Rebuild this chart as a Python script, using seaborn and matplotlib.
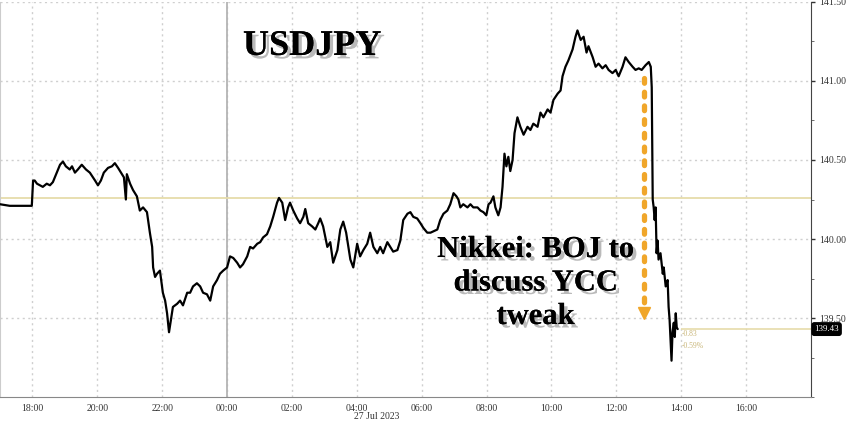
import matplotlib
matplotlib.use('Agg')
import matplotlib.pyplot as plt
import matplotlib.patheffects as pe
import matplotlib.transforms as mtransforms
from matplotlib.ticker import MultipleLocator, FixedLocator, FuncFormatter
import pandas as pd
import seaborn as sns

sns.set_style('white')
plt.rcParams['font.family'] = ['Liberation Serif', 'DejaVu Serif']

# horas respecto a la medianoche del 27 Jul 2023 (negativas = 26 Jul)
hours = [-7.0, -6.7, -6.4, -6.02, -5.98, -5.93, -5.86, -5.77, -5.68, -5.56, -5.46, -5.37,
         -5.25, -5.15, -5.06, -4.97, -4.85, -4.78, -4.69, -4.60, -4.48, -4.35, -4.23, -4.07,
         -3.98, -3.89, -3.80, -3.67, -3.55, -3.46, -3.36, -3.27, -3.18, -3.12, -3.09, -2.99,
         -2.90, -2.78, -2.69, -2.59, -2.47, -2.38, -2.31, -2.28, -2.22, -2.16, -2.07, -1.98,
         -1.91, -1.85, -1.79, -1.73, -1.67, -1.54, -1.45, -1.36, -1.23, -1.14, -1.05, -0.93,
         -0.83, -0.74, -0.62, -0.52, -0.43, -0.31, -0.22, -0.12, 0.00, 0.09, 0.19, 0.31,
         0.40, 0.49, 0.62, 0.71, 0.80, 0.93, 1.02, 1.11, 1.23, 1.33, 1.42, 1.54,
         1.60, 1.70, 1.79, 1.88, 1.94, 2.04, 2.16, 2.25, 2.35, 2.41, 2.50, 2.62,
         2.72, 2.81, 2.87, 2.96, 3.09, 3.18, 3.27, 3.40, 3.49, 3.58, 3.67, 3.80,
         3.89, 4.01, 4.10, 4.20, 4.32, 4.41, 4.51, 4.63, 4.72, 4.81, 4.94, 5.03,
         5.12, 5.25, 5.34, 5.43, 5.56, 5.65, 5.74, 5.86, 5.96, 6.05, 6.17, 6.27,
         6.48, 6.57, 6.67, 6.79, 6.88, 6.98, 7.07, 7.13, 7.19, 7.28, 7.41, 7.50,
         7.59, 7.72, 7.81, 7.90, 7.99, 8.06, 8.12, 8.21, 8.27, 8.36, 8.43, 8.49,
         8.55, 8.61, 8.67, 8.73, 8.80, 8.86, 8.95, 9.04, 9.14, 9.26, 9.35, 9.44,
         9.57, 9.66, 9.75, 9.88, 9.97, 10.06, 10.19, 10.28, 10.34, 10.43, 10.52, 10.65,
         10.74, 10.80, 10.90, 10.99, 11.08, 11.14, 11.27, 11.36, 11.45, 11.57, 11.67, 11.76,
         11.88, 11.98, 12.07, 12.19, 12.28, 12.38, 12.50, 12.59, 12.69, 12.78, 12.90, 13.00,
         13.06, 13.09, 13.12, 13.15, 13.18, 13.21, 13.24, 13.27, 13.30, 13.36, 13.43, 13.46,
         13.52, 13.58, 13.61, 13.64, 13.67, 13.70, 13.73, 13.77, 13.80, 13.83, 13.86, 13.89]

price = [140.22, 140.21, 140.21, 140.21, 140.37, 140.37, 140.35, 140.34, 140.33, 140.35, 140.34, 140.36,
         140.42, 140.47, 140.49, 140.46, 140.44, 140.46, 140.42, 140.44, 140.47, 140.44, 140.42, 140.37,
         140.34, 140.37, 140.42, 140.45, 140.46, 140.48, 140.45, 140.42, 140.39, 140.25, 140.41, 140.35,
         140.31, 140.27, 140.18, 140.20, 140.17, 140.04, 139.95, 139.82, 139.76, 139.78, 139.80, 139.66,
         139.61, 139.53, 139.41, 139.49, 139.57, 139.59, 139.61, 139.58, 139.66, 139.66, 139.70, 139.72,
         139.70, 139.66, 139.65, 139.61, 139.70, 139.74, 139.78, 139.80, 139.82, 139.89, 139.88, 139.85,
         139.82, 139.84, 139.89, 139.95, 139.94, 139.97, 139.98, 140.01, 140.03, 140.08, 140.14, 140.23,
         140.26, 140.23, 140.12, 140.20, 140.23, 140.18, 140.13, 140.10, 140.14, 140.19, 140.10, 140.08,
         140.06, 140.10, 140.13, 140.08, 139.95, 139.98, 139.85, 139.93, 140.06, 140.11, 140.04, 139.87,
         139.82, 139.97, 139.89, 139.93, 139.97, 140.04, 139.95, 139.91, 139.95, 139.91, 139.98, 139.95,
         139.92, 139.93, 139.99, 140.12, 140.16, 140.17, 140.14, 140.13, 140.10, 140.07, 140.04, 140.04,
         140.06, 140.12, 140.16, 140.18, 140.22, 140.29, 140.27, 140.25, 140.20, 140.22, 140.20, 140.22,
         140.20, 140.20, 140.18, 140.17, 140.15, 140.22, 140.23, 140.27, 140.20, 140.15, 140.20, 140.33,
         140.54, 140.46, 140.52, 140.43, 140.50, 140.67, 140.77, 140.71, 140.66, 140.71, 140.69, 140.73,
         140.71, 140.80, 140.77, 140.82, 140.80, 140.88, 140.92, 140.94, 141.03, 141.09, 141.13, 141.20,
         141.28, 141.32, 141.26, 141.28, 141.18, 141.22, 141.15, 141.09, 141.11, 141.08, 141.10, 141.07,
         141.05, 141.07, 141.03, 141.09, 141.15, 141.12, 141.09, 141.07, 141.08, 141.07, 141.10, 141.12,
         141.09, 140.96, 140.25, 140.20, 140.12, 140.20, 139.91, 139.99, 139.87, 139.91, 139.78, 139.82,
         139.70, 139.74, 139.57, 139.49, 139.36, 139.23, 139.41, 139.47, 139.38, 139.53, 139.44, 139.43]

df = pd.DataFrame({'hour': hours, 'price': price})

hour_ticks = [-6, -4, -2, 0, 2, 4, 6, 8, 10, 12, 14, 16]
price_ticks = [139.5, 140.0, 140.5, 141.0, 141.5]

ref_level = 140.26
last_price = 139.43
last_label = '139.43'
chg_abs = '-0.83'
chg_pct = '-0.59%'

title = 'USDJPY'
note_lines = ['Nikkei: BOJ to', 'discuss YCC', 'tweak']
date_label = '27 Jul 2023'

# flecha naranja (hora, desde, hasta)
arrow_hour = 12.86
arrow_from = 141.02
arrow_to = 139.50

line_col = '#e6dcaa'
orange = '#f0a62a'

fig = plt.figure(figsize=(8.48, 4.22), dpi=100)
ax = fig.add_axes([0.0, 0.0592, 0.9564, 0.9361])

# lineas de fondo
ax.axvline(0, color='#b4b4b4', lw=1.3, zorder=1)
ax.axhline(ref_level, color=line_col, lw=1.3, zorder=1)
ax.hlines(last_price, 13.98, 18.0, color=line_col, lw=1.2, zorder=1)

sns.lineplot(data=df, x='hour', y='price', ax=ax, color='black', lw=1.6, zorder=3)

# flecha
ax.plot([arrow_hour, arrow_hour], [arrow_from, arrow_to + 0.06], color=orange, lw=3.8,
        linestyle=(0, (0.9, 1.7)), dash_capstyle='round', zorder=4)
ax.plot([arrow_hour], [arrow_to + 0.03], marker='v', markersize=9, color=orange, zorder=4)

ax.set_xlim(-7.0, 18.0)
ax.set_ylim(139.0, 141.5)

ax.xaxis.set_major_locator(FixedLocator(hour_ticks))
ax.xaxis.set_minor_locator(MultipleLocator(1))
ax.xaxis.set_major_formatter(FuncFormatter(lambda v, p: '%02d:00' % (int(round(v)) % 24)))
ax.yaxis.set_major_locator(FixedLocator(price_ticks))
ax.yaxis.set_minor_locator(MultipleLocator(0.25))
ax.yaxis.set_major_formatter(FuncFormatter(lambda v, p: '%.2f' % v))
ax.yaxis.tick_right()

ax.grid(True, which='major', color='#cfcfcf', linestyle=(0, (1.5, 2.5)), lw=1)
ax.tick_params(axis='both', which='major', labelsize=7, labelcolor='#333333', colors='#333333',
               length=3, width=1)
ax.tick_params(axis='both', which='minor', length=2, colors='#555555')
ax.tick_params(axis='x', pad=2)
ax.tick_params(axis='y', pad=3)

ax.set_xlabel('')
ax.set_ylabel('')
ax.spines['top'].set_visible(False)
ax.spines['right'].set_color('#444444')
ax.spines['bottom'].set_color('#888888')
ax.spines['left'].set_color('#cccccc')
ax.spines['left'].set_linewidth(0.8)

shadow = [pe.withSimplePatchShadow(offset=(2.5, -2.5), shadow_rgbFace='#666666', alpha=0.45), pe.Normal()]

ax.text(2.62, 141.165, title, fontsize=26, fontweight='bold', ha='center', va='baseline',
        color='black', path_effects=shadow, zorder=5)

for i, line in enumerate(note_lines):
    ax.text(9.51, 139.886 - i * 0.212, line, fontsize=22, fontweight='bold', ha='center',
            va='baseline', color='black', path_effects=shadow, zorder=5)

ax.text(14.0, 139.40, chg_abs, fontsize=5.5, color='#c9b679', va='center', ha='left')
ax.text(14.0, 139.32, chg_pct, fontsize=5.5, color='#c9b679', va='center', ha='left')

trans = mtransforms.blended_transform_factory(ax.transAxes, ax.transData)
ax.text(1.004, last_price, last_label, transform=trans, fontsize=6.5, color='white',
        va='center', ha='left', bbox=dict(boxstyle='round,pad=0.25', fc='black', ec='black'),
        clip_on=False)

fig.text(0.4446, 0.002, date_label, fontsize=7, color='#333333', ha='center', va='bottom')

fig.savefig('out.png', dpi=100)
